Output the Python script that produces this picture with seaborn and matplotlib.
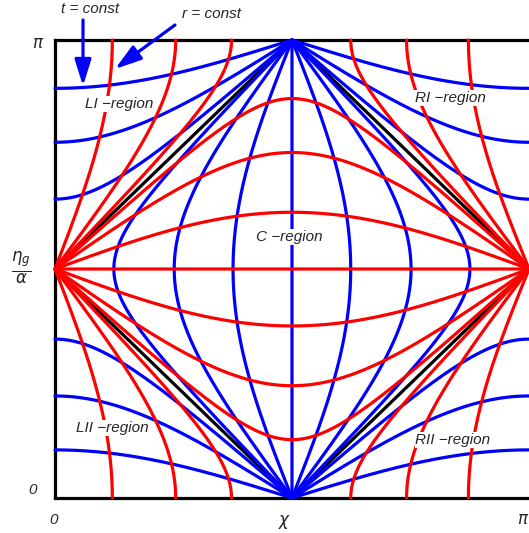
# %%
import matplotlib.pyplot as plt
import numpy as np
import pandas as pd
import seaborn as sns

PI = np.pi
HALF = np.pi / 2

# r = const lines: eta where they cross chi = pi/2 (C-region)
red_mid_eta = [0.40, 0.77, 1.18, 1.571, 1.96, 2.37, 2.74]
# r = const lines: chi where they hit top/bottom edges (L/R regions)
red_edge_chi = [0.38, 0.80, 1.17, 1.96, 2.33, 2.74]
# t = const lines: chi where they cross eta = pi/2 (C-region)
blue_mid_chi = [0.39, 0.79, 1.18, 1.571, 1.96, 2.36, 2.75]
# t = const lines: eta where they hit the side edges (L/R regions)
blue_edge_eta = [0.33, 0.70, 1.09, 2.05, 2.44, 2.81]
# horizon diamond
diamond_chi = [0, HALF, PI, HALF, 0]
diamond_eta = [HALF, PI, HALF, 0, HALF]

regions = ["LI \u2212region", "RI \u2212region", "C \u2212region", "LII \u2212region", "RII \u2212region"]
region_xy = [(119, 104), (450, 98), (289, 237), (112, 428), (453, 440)]

# %%
s = np.linspace(-HALF, HALF, 801)


def r_inner(eta0):
    c = np.sin(eta0 - HALF)
    return s + HALF, np.arcsin(c * np.cos(s)) + HALF


def r_outer(chi0):
    d = min(chi0, PI - chi0)
    xp = np.arcsin(np.sin(np.abs(s)) * np.sin(d))
    x = xp if chi0 < HALF else PI - xp
    return x, s + HALF


def t_inner(chi0):
    k = np.sin(chi0 - HALF)
    return np.arcsin(k * np.cos(s)) + HALF, s + HALF


def t_outer(eta0):
    d = eta0 - HALF
    y = np.sign(d) * np.arccos(np.abs(np.sin(s)) * np.cos(d))
    return s + HALF, y + HALF


rows = []
n = 0
for fam, func, vals in [("r", r_inner, red_mid_eta), ("r", r_outer, red_edge_chi),
                        ("t", t_inner, blue_mid_chi), ("t", t_outer, blue_edge_eta)]:
    for v in vals:
        x, y = func(v)
        rows.append(pd.DataFrame({"chi": x, "eta": y, "family": fam, "curve": n}))
        n += 1
df = pd.concat(rows, ignore_index=True)

# %%
sns.set_style("white")
plt.rcParams["font.family"] = ["Liberation Sans", "DejaVu Sans"]
plt.rcParams["mathtext.fontset"] = "dejavusans"

W, H = 529, 533
fig = plt.figure(figsize=(W / 100, H / 100), dpi=100)
ax = fig.add_axes([55 / W, 35 / H, 474 / W, 458 / H])

ax.plot(diamond_chi, diamond_eta, color="black", lw=2.3, zorder=3, clip_on=False)
sns.lineplot(data=df[df.family == "t"], x="chi", y="eta", units="curve", estimator=None,
             sort=False, color="#0000ff", lw=2.3, ax=ax, zorder=4, clip_on=False)
sns.lineplot(data=df[df.family == "r"], x="chi", y="eta", units="curve", estimator=None,
             sort=False, color="#ff0000", lw=2.3, ax=ax, zorder=5, clip_on=False)

ax.set_xlim(0, PI)
ax.set_ylim(0, PI)
ax.set_xticks([])
ax.set_yticks([])
ax.set_xlabel("")
ax.set_ylabel("")
ax.spines["right"].set_visible(False)
for sp in ["left", "top", "bottom"]:
    ax.spines[sp].set_linewidth(2.3)
    ax.spines[sp].set_color("black")
    ax.spines[sp].set_zorder(2)


def px(x, y):
    return x / W, 1 - y / H


it = dict(style="italic", fontsize=11, ha="center", va="center")
fig.text(*px(38, 44), r"$\pi$", fontsize=12, ha="center", va="center")
fig.text(*px(33, 490), "0", **it)
fig.text(*px(54, 520), "0", **it)
fig.text(*px(285, 522), r"$\chi$", fontsize=12, ha="center", va="center")
fig.text(*px(523, 519), r"$\pi$", fontsize=12, ha="center", va="center")
fig.text(*px(21, 268), r"$\frac{\eta_g}{\alpha}$", fontsize=17, ha="center", va="center")

for lab, (x, y) in zip(regions, region_xy):
    fig.text(*px(x, y), lab, style="italic", fontsize=11, ha="center", va="center",
             zorder=10, bbox=dict(facecolor="white", edgecolor="none", pad=0.5))

fig.text(*px(90, 9), "t = const", style="italic", fontsize=11, ha="center", va="center")
fig.text(*px(212, 14), "r = const", style="italic", fontsize=11, ha="center", va="center")

arrow = dict(arrowstyle="-|>,head_length=0.8,head_width=0.25", color="#0000ff", lw=2.3,
             mutation_scale=20, shrinkA=0, shrinkB=0)
ax.annotate("", xy=(83, H - 86), xytext=(83, H - 20), xycoords="figure pixels",
            textcoords="figure pixels", arrowprops=arrow, annotation_clip=False, zorder=12)
ax.annotate("", xy=(115, H - 69), xytext=(175, H - 25), xycoords="figure pixels",
            textcoords="figure pixels", arrowprops=arrow, annotation_clip=False, zorder=12)

fig.savefig("out.png", dpi=100)
